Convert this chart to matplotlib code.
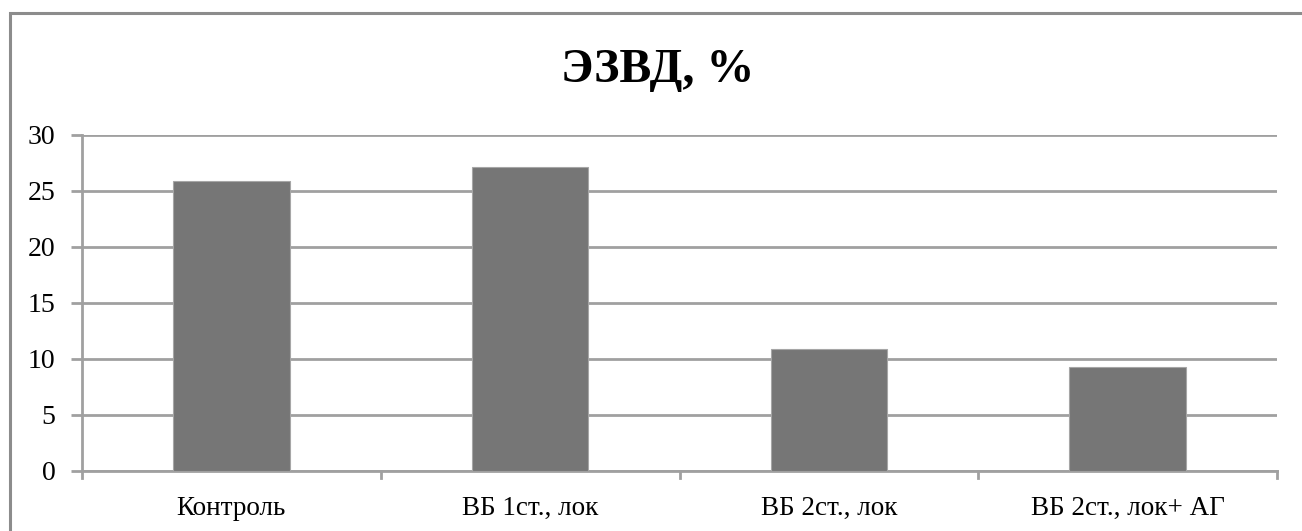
import matplotlib.pyplot as plt
from matplotlib.patches import Rectangle
import numpy as np

categories = ['Контроль', 'ВБ 1ст., лок', 'ВБ 2ст., лок', 'ВБ 2ст., лок+ АГ']
values = [25.9, 27.1, 10.9, 9.3]
yticks = [0, 5, 10, 15, 20, 25, 30]

plt.rcParams['font.family'] = ['Liberation Serif', 'DejaVu Serif']

W, H = 1302, 531
fig = plt.figure(figsize=(W / 100, H / 100), dpi=100)
ax = fig.add_axes([82 / W, 1 - 471 / H, (1277 - 82) / W, (471 - 135) / H])

grid_col = '#a0a0a0'
x = np.arange(len(categories))
ax.bar(x, values, width=0.39, color='#767676', edgecolor='#a6a6a6',
       linewidth=0.8, zorder=3)

ax.set_xlim(-0.5, len(categories) - 0.5)
ax.set_ylim(0, 30)
ax.set_yticks(yticks)
ax.yaxis.grid(True, color=grid_col, linewidth=2.0, zorder=0)
ax.set_xticks(x)
ax.set_xticklabels(categories, fontsize=19.5)
ax.tick_params(axis='x', length=0, pad=18)
ax.tick_params(axis='y', length=8, width=2, color=grid_col, labelsize=20, pad=11)

# category separator ticks along the bottom axis
for b in np.arange(-0.5, len(categories), 1.0):
    ax.plot([b, b], [0, -0.6], color=grid_col, linewidth=2, clip_on=False,
            zorder=2)

for side in ['top', 'right']:
    ax.spines[side].set_visible(False)
ax.spines['left'].set_color(grid_col)
ax.spines['left'].set_linewidth(2)
ax.spines['bottom'].set_color(grid_col)
ax.spines['bottom'].set_linewidth(2)

fig.text(658 / W, 1 - 70 / H, 'ЭЗВД, %', fontsize=34.5, fontweight='bold',
         ha='center', va='center')

# outer chart frame
fig.patches.append(Rectangle((9.5 / W, -0.02), 1.05, 1 - 12.5 / H + 0.02,
                             transform=fig.transFigure, fill=False,
                             edgecolor='#8c8c8c', linewidth=2.2))

fig.savefig('out.png', dpi=100)
